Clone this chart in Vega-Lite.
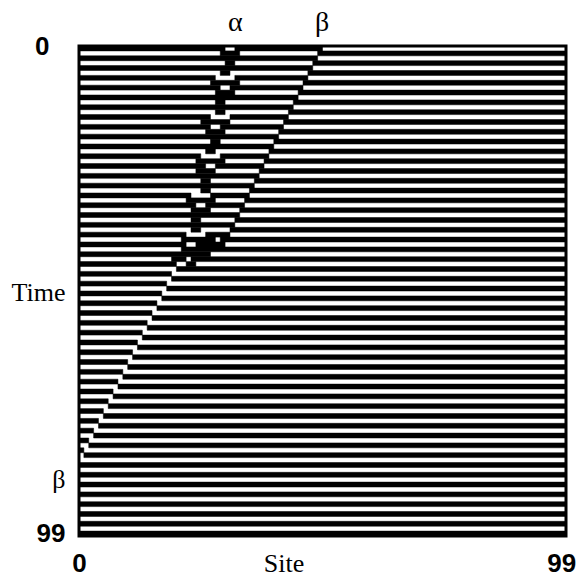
{
 "$schema": "https://vega.github.io/schema/vega-lite/v6.json",
 "width": 487, "height": 490,
 "autosize": {"type": "none"},
 "padding": {"left": 79, "top": 46, "right": 16, "bottom": 42},
 "background": "white",
 "config": {"view": {"stroke": "black", "strokeWidth": 3}},
 "data": {"values": [
  {"t":0,"a":0,"b":30},{"t":0,"a":32,"b":50},
  {"t":1,"a":29,"b":33},{"t":1,"a":49,"b":100},
  {"t":2,"a":0,"b":49},
  {"t":3,"a":30,"b":32},{"t":3,"a":48,"b":100},
  {"t":4,"a":0,"b":48},
  {"t":5,"a":29,"b":31},{"t":5,"a":47,"b":100},
  {"t":6,"a":0,"b":28},{"t":6,"a":32,"b":47},
  {"t":7,"a":27,"b":33},{"t":7,"a":46,"b":100},
  {"t":8,"a":0,"b":29},{"t":8,"a":31,"b":46},
  {"t":9,"a":28,"b":32},{"t":9,"a":45,"b":100},
  {"t":10,"a":0,"b":45},
  {"t":11,"a":28,"b":30},{"t":11,"a":44,"b":100},
  {"t":12,"a":0,"b":44},
  {"t":13,"a":28,"b":30},{"t":13,"a":43,"b":100},
  {"t":14,"a":0,"b":27},{"t":14,"a":31,"b":43},
  {"t":15,"a":25,"b":31},{"t":15,"a":42,"b":100},
  {"t":16,"a":0,"b":27},{"t":16,"a":29,"b":42},
  {"t":17,"a":26,"b":30},{"t":17,"a":41,"b":100},
  {"t":18,"a":0,"b":41},
  {"t":19,"a":27,"b":29},{"t":19,"a":40,"b":100},
  {"t":20,"a":0,"b":40},
  {"t":21,"a":26,"b":28},{"t":21,"a":39,"b":100},
  {"t":22,"a":0,"b":25},{"t":22,"a":29,"b":39},
  {"t":23,"a":24,"b":30},{"t":23,"a":38,"b":100},
  {"t":24,"a":0,"b":26},{"t":24,"a":28,"b":38},
  {"t":25,"a":24,"b":28},{"t":25,"a":37,"b":100},
  {"t":26,"a":0,"b":37},
  {"t":27,"a":25,"b":27},{"t":27,"a":36,"b":100},
  {"t":28,"a":0,"b":36},
  {"t":29,"a":25,"b":27},{"t":29,"a":35,"b":100},
  {"t":30,"a":0,"b":23},{"t":30,"a":27,"b":35},
  {"t":31,"a":22,"b":28},{"t":31,"a":34,"b":100},
  {"t":32,"a":0,"b":24},{"t":32,"a":26,"b":34},
  {"t":33,"a":23,"b":27},{"t":33,"a":33,"b":100},
  {"t":34,"a":0,"b":33},
  {"t":35,"a":23,"b":25},{"t":35,"a":32,"b":100},
  {"t":36,"a":0,"b":32},
  {"t":37,"a":23,"b":25},{"t":37,"a":31,"b":100},
  {"t":38,"a":0,"b":22},{"t":38,"a":26,"b":31},
  {"t":39,"a":21,"b":28},{"t":39,"a":29,"b":100},
  {"t":40,"a":0,"b":22},{"t":40,"a":24,"b":30},
  {"t":41,"a":21,"b":100},
  {"t":42,"a":0,"b":27},
  {"t":43,"a":19,"b":22},{"t":43,"a":23,"b":100},
  {"t":44,"a":0,"b":20},{"t":44,"a":22,"b":24},
  {"t":45,"a":20,"b":100},
  {"t":46,"a":0,"b":19},
  {"t":47,"a":19,"b":100},
  {"t":48,"a":0,"b":18},
  {"t":49,"a":18,"b":100},
  {"t":50,"a":0,"b":17},
  {"t":51,"a":17,"b":100},
  {"t":52,"a":0,"b":16},
  {"t":53,"a":16,"b":100},
  {"t":54,"a":0,"b":15},
  {"t":55,"a":15,"b":100},
  {"t":56,"a":0,"b":14},
  {"t":57,"a":14,"b":100},
  {"t":58,"a":0,"b":13},
  {"t":59,"a":13,"b":100},
  {"t":60,"a":0,"b":12},
  {"t":61,"a":12,"b":100},
  {"t":62,"a":0,"b":11},
  {"t":63,"a":11,"b":100},
  {"t":64,"a":0,"b":10},
  {"t":65,"a":10,"b":100},
  {"t":66,"a":0,"b":9},
  {"t":67,"a":9,"b":100},
  {"t":68,"a":0,"b":8},
  {"t":69,"a":8,"b":100},
  {"t":70,"a":0,"b":7},
  {"t":71,"a":7,"b":100},
  {"t":72,"a":0,"b":6},
  {"t":73,"a":6,"b":100},
  {"t":74,"a":0,"b":5},
  {"t":75,"a":5,"b":100},
  {"t":76,"a":0,"b":4},
  {"t":77,"a":4,"b":100},
  {"t":78,"a":0,"b":3},
  {"t":79,"a":3,"b":100},
  {"t":80,"a":0,"b":2},
  {"t":81,"a":2,"b":100},
  {"t":82,"a":0,"b":1},
  {"t":83,"a":1,"b":100},
  {"t":85,"a":0,"b":100},
  {"t":87,"a":0,"b":100},
  {"t":89,"a":0,"b":100},
  {"t":91,"a":0,"b":100},
  {"t":93,"a":0,"b":100},
  {"t":95,"a":0,"b":100},
  {"t":97,"a":0,"b":100},
  {"t":99,"a":0,"b":100}
 ]},
 "layer": [
  {
   "mark": {"type": "rect", "color": "black", "stroke": "black", "strokeWidth": 0.5},
   "encoding": {
    "x": {"field": "a", "type": "quantitative",
      "scale": {"domain": [0, 100], "nice": false, "zero": false},
      "axis": {"orient": "bottom", "values": [0, 42, 99], "title": null,
        "labelExpr": "datum.value == 42 ? 'Site' : datum.value == 0 ? '0' : '99'",
        "ticks": false, "domain": false, "grid": false, "labelFlush": false, "labelOverlap": false,
        "labelPadding": 14, "labelBaseline": "top", "labelColor": "black", "labelFontSize": 26,
        "labelFont": {"condition": {"test": "datum.value == 42", "value": "Liberation Serif"}, "value": "Liberation Sans"},
        "labelFontWeight": {"condition": {"test": "datum.value == 42", "value": "normal"}, "value": "bold"}}},
    "x2": {"field": "b"},
    "y": {"field": "t", "type": "ordinal",
      "scale": {"domain": [0,1,2,3,4,5,6,7,8,9,10,11,12,13,14,15,16,17,18,19,20,21,22,23,24,25,26,27,28,29,30,31,32,33,34,35,36,37,38,39,40,41,42,43,44,45,46,47,48,49,50,51,52,53,54,55,56,57,58,59,60,61,62,63,64,65,66,67,68,69,70,71,72,73,74,75,76,77,78,79,80,81,82,83,84,85,86,87,88,89,90,91,92,93,94,95,96,97,98,99], "paddingInner": 0, "paddingOuter": 0},
      "axis": {"orient": "left", "values": [1, 50, 88, 99], "title": null,
        "labelExpr": "datum.value == 50 ? 'Time' : datum.value == 88 ? 'β' : datum.value == 99 ? '99' : '0'",
        "ticks": false, "domain": false, "grid": false, "labelOverlap": false, "labelBound": false, "labelFlush": false,
        "labelPadding": {"condition": {"test": "datum.value == 1", "value": 30}, "value": 14},
        "labelColor": "black",
        "labelFontSize": 26,
        "labelOffset": {"condition": {"test": "datum.value == 1", "value": -6}, "value": 0},
        "labelFont": {"condition": {"test": "datum.value == 50 || datum.value == 88", "value": "Liberation Serif"}, "value": "Liberation Sans"},
        "labelFontWeight": {"condition": {"test": "datum.value == 50 || datum.value == 88", "value": "normal"}, "value": "bold"}}}
   }
  },
  {
   "mark": {"type": "rule", "opacity": 0},
   "encoding": {
    "x": {"field": "a", "type": "quantitative",
      "axis": {"orient": "top", "values": [32, 49.8], "title": null,
        "labelExpr": "datum.value < 40 ? 'α' : 'β'",
        "ticks": false, "domain": false, "grid": false, "labelFlush": false, "labelOverlap": false,
        "labelPadding": 10, "labelColor": "black", "labelFontSize": 28, "labelFont": "Liberation Serif"}}
   }
  }
 ],
 "resolve": {"axis": {"x": "independent"}}
}
